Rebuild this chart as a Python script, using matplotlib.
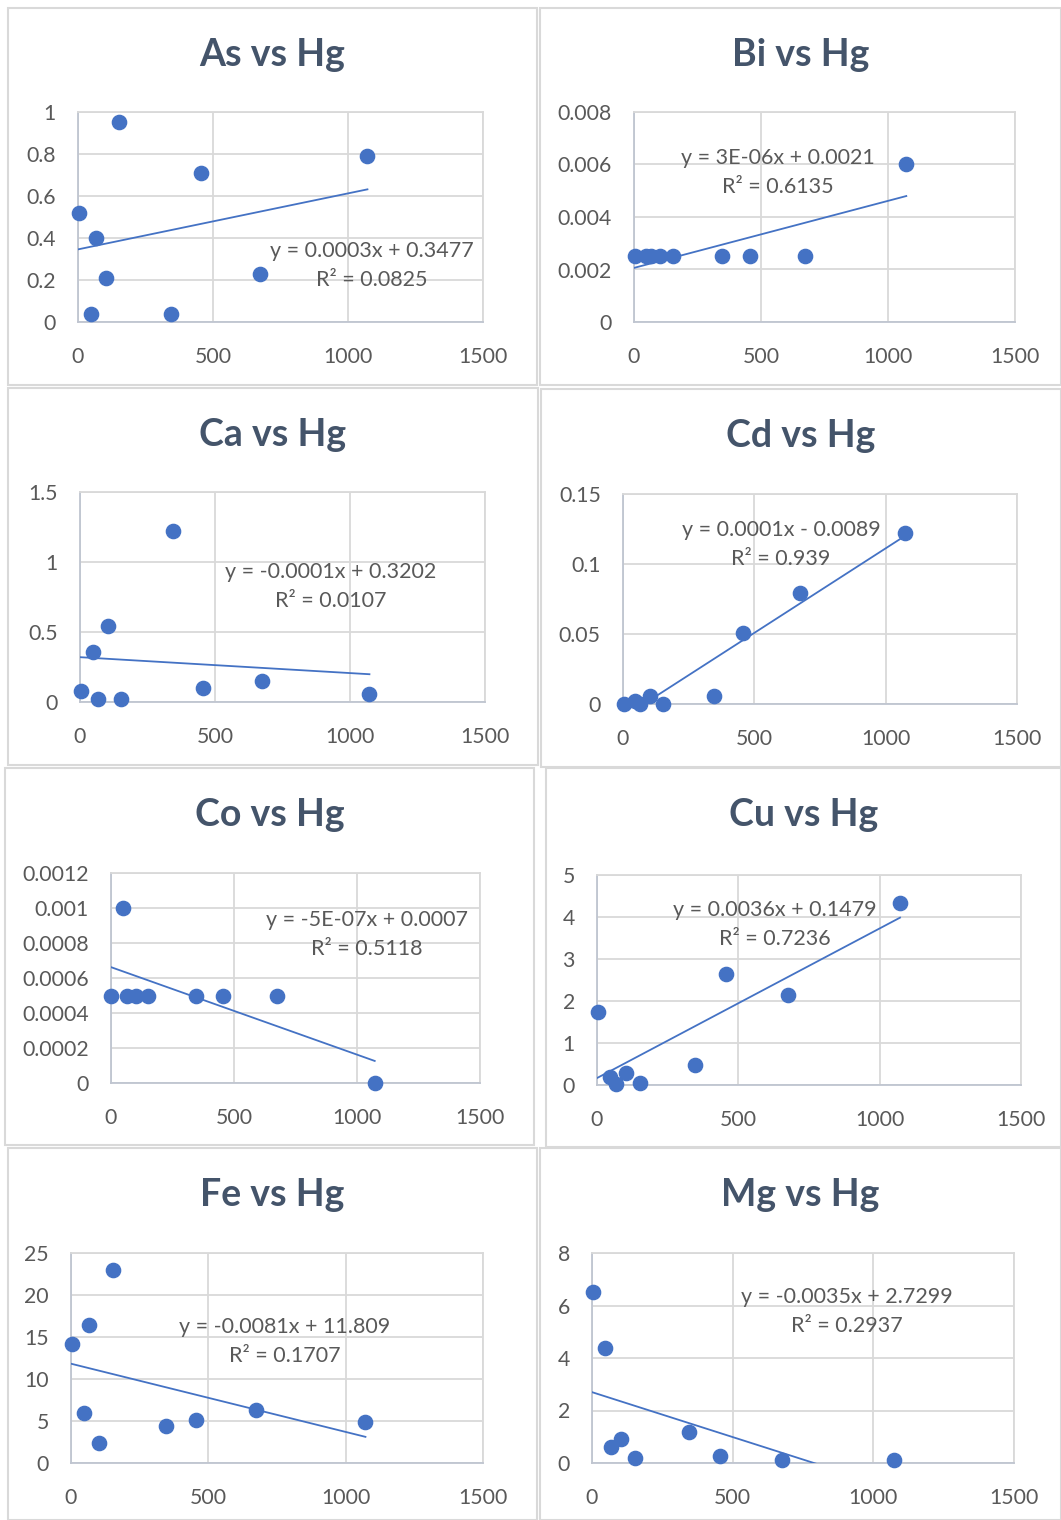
import numpy as np
import matplotlib
matplotlib.use("Agg")
import matplotlib.pyplot as plt
from matplotlib.patches import Rectangle

plt.rcParams['font.family'] = ['Lato', 'DejaVu Sans']

# ---------------- data ----------------
hg = [2, 47, 66, 103, 152, 346, 455, 674, 1072]

as_vals = [0.52, 0.04, 0.40, 0.21, 0.95, 0.04, 0.71, 0.23, 0.79]
bi_vals = [0.0025, 0.0025, 0.0025, 0.0025, 0.0025, 0.0025, 0.0025, 0.0025, 0.006]
ca_vals = [0.08, 0.36, 0.02, 0.54, 0.02, 1.22, 0.10, 0.15, 0.06]
cd_vals = [0.0, 0.002, 0.0, 0.006, 0.0, 0.006, 0.051, 0.079, 0.122]
co_vals = [0.0005, 0.001, 0.0005, 0.0005, 0.0005, 0.0005, 0.0005, 0.0005, 0.0]
cu_vals = [1.74, 0.19, 0.02, 0.29, 0.05, 0.48, 2.64, 2.14, 4.33]
fe_vals = [14.2, 6.0, 16.4, 2.4, 23.0, 4.4, 5.1, 6.3, 4.9]
mg_vals = [6.5, 4.4, 0.6, 0.9, 0.2, 1.2, 0.27, 0.12, 0.12]

titles = ["As vs Hg", "Bi vs Hg", "Ca vs Hg", "Cd vs Hg",
          "Co vs Hg", "Cu vs Hg", "Fe vs Hg", "Mg vs Hg"]
series = [as_vals, bi_vals, ca_vals, cd_vals, co_vals, cu_vals, fe_vals, mg_vals]
equations = ["y = 0.0003x + 0.3477", "y = 3E-06x + 0.0021", "y = -0.0001x + 0.3202",
             "y = 0.0001x - 0.0089", "y = -5E-07x + 0.0007", "y = 0.0036x + 0.1479",
             "y = -0.0081x + 11.809", "y = -0.0035x + 2.7299"]
r2_labels = ["R² = 0.0825", "R² = 0.6135", "R² = 0.0107", "R² = 0.939",
             "R² = 0.5118", "R² = 0.7236", "R² = 0.1707", "R² = 0.2937"]
y_max = [1, 0.008, 1.5, 0.15, 0.0012, 5, 25, 8]
y_step = [0.2, 0.002, 0.5, 0.05, 0.0002, 1, 5, 2]
x_ticks = [0, 500, 1000, 1500]

# ---------------- layout (pixels) ----------------
W, H = 1061, 1520
fig = plt.figure(figsize=(W / 100, H / 100), dpi=100)
fig.patch.set_facecolor('white')

def fx(px):
    return px / W

def fy(py):
    return 1 - py / H

panels = [(8, 8, 537, 385), (540, 8, 1061, 385),
          (8, 388, 538, 765), (541, 389, 1061, 767),
          (5, 768, 534, 1145), (546, 768, 1061, 1147),
          (8, 1148, 537, 1520), (540, 1148, 1061, 1520)]
plot_boxes = [(78, 112, 483, 322), (634, 112, 1015, 322),
              (80, 492, 485, 702), (623, 494, 1017, 704),
              (111, 873, 480, 1083), (597, 875, 1021, 1085),
              (71, 1253, 483, 1463), (592, 1253, 1014, 1463)]
eq_pos = [(372, 251), (778, 158), (331, 572), (781, 530),
          (367, 920), (775, 910), (285, 1327), (847, 1297)]

BLUE = '#4472C4'
GRID = '#D9D9D9'
TXT = '#595959'
TITLE = '#44546A'

for (x0, y0, x1, y1) in panels:
    fig.patches.append(Rectangle((fx(x0), fy(y1)), fx(x1 - x0), (y1 - y0) / H,
                                 transform=fig.transFigure, facecolor='white',
                                 edgecolor='#D9D9D9', lw=1.5, zorder=-5))

def fmt(v):
    return f"{np.round(v, 6):g}"

for i in range(8):
    x0, y0, x1, y1 = plot_boxes[i]
    ax = fig.add_axes([fx(x0), fy(y1), fx(x1 - x0), (y1 - y0) / H])
    ax.set_facecolor('none')
    ax.set_zorder(2)
    yv = np.array(series[i], dtype=float)
    xv = np.array(hg, dtype=float)

    ax.set_xlim(0, 1500)
    ax.set_ylim(0, y_max[i])
    yt = np.arange(0, y_max[i] + y_step[i] / 2, y_step[i])
    ax.set_yticks(yt)
    ax.set_yticklabels([fmt(v) for v in yt])
    ax.set_xticks(x_ticks)
    ax.set_xticklabels([str(v) for v in x_ticks])
    ax.tick_params(length=0, labelsize=15.3, colors=TXT)
    ax.tick_params(axis='x', pad=18)
    ax.tick_params(axis='y', pad=16)
    ax.grid(True, color=GRID, lw=1.3)
    ax.set_axisbelow(True)
    for s in ['top', 'right']:
        ax.spines[s].set_color(GRID)
        ax.spines[s].set_linewidth(1.3)
    for s in ['left', 'bottom']:
        ax.spines[s].set_color('#BFC5D0')
        ax.spines[s].set_linewidth(1.3)

    # trendline (least squares on data)
    k, b = np.polyfit(xv, yv, 1)
    xl = np.array([xv.min(), xv.max()])
    ax.plot(xl, k * xl + b, color=BLUE, lw=1.3, zorder=3, clip_on=True)
    ax.scatter(xv, yv, s=105, color=BLUE, edgecolors=BLUE, zorder=4, clip_on=False)

    # title
    cx = (panels[i][0] + panels[i][2]) / 2
    fig.text(fx(cx), fy(panels[i][1] + 47), titles[i], ha='center', va='center',
             fontsize=27, fontweight='bold', color=TITLE, zorder=5)
    ex, ey = eq_pos[i]
    fig.text(fx(ex), fy(ey), equations[i], ha='center', va='center',
             fontsize=15.5, color=TXT, zorder=5)
    fig.text(fx(ex), fy(ey + 29), r2_labels[i], ha='center', va='center',
             fontsize=15.5, color=TXT, zorder=5)

fig.savefig('out.png', dpi=100, facecolor='white')
